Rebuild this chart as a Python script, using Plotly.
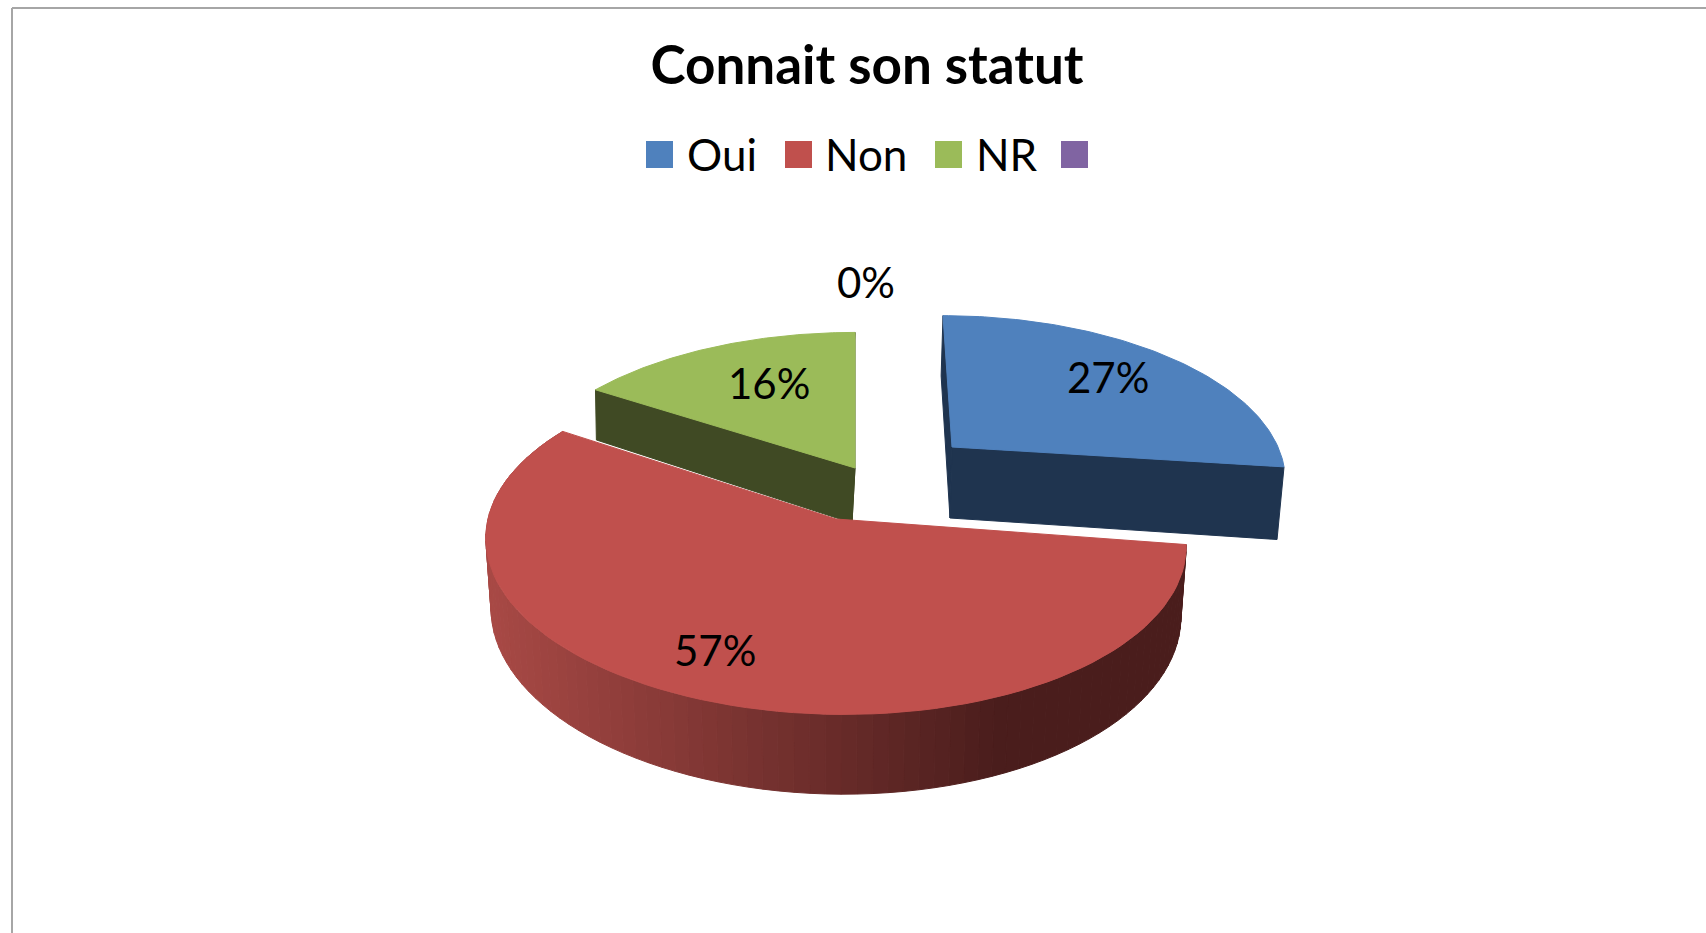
import math
import plotly.graph_objects as go

# ---- data ----
CATEGORIES = ["Oui", "Non", "NR", ""]
VALUES = [27, 57, 16, 0]
LABELS = ["27%", "57%", "16%", "0%"]
COLORS = ["#4F81BD", "#C0504D", "#9BBB59", "#8064A2"]
WALLS = ["#1F344F", None, "#404A24", "#4A3A60"]

# ---- 3D projection settings for each exploded slice ----
CX = [952, 836, 855, 870]
CY = [447, 519, 468, 460]
RX = [326, 347, 337, 330]
RY = [155, 169, 160, 160]
LEAN = [-9, 0, 0, 0]
TILT = [0, 4, 0, 0]
PERSP = [0.18, 0.135, 0.18, 0.18]
DEPTH = [71, 69, 55, 60]
WALL_DX = [-2, 0, -3, 0]
WALL_SCALE = 0.985
FONT = "Lato"


def top_pt(i, a, r=1.0):
    X, Y = r * math.sin(a), r * math.cos(a)
    s = 1 / (1 + PERSP[i] * Y)
    return CX[i] + RX[i] * X * s + LEAN[i] * Y, CY[i] - RY[i] * Y * s + TILT[i] * X * s, s


def low_pt(i, a, r=1.0):
    x, y, s = top_pt(i, a, r)
    return CX[i] + (x - CX[i]) * WALL_SCALE + WALL_DX[i], y + DEPTH[i] * s


def mix(c1, c2, t):
    t = max(0, min(1, t))
    return "#%02x%02x%02x" % tuple(round(p + (q - p) * t) for p, q in zip(c1, c2))


def poly(xs, ys, color):
    return go.Scatter(x=xs + xs[:1], y=ys + ys[:1], mode="lines", fill="toself",
                      fillcolor=color, line=dict(color=color, width=1),
                      hoverinfo="skip", showlegend=False)


total = sum(VALUES)
edges = [0]
for v in VALUES:
    edges.append(edges[-1] + v / total * 2 * math.pi)

fig = go.Figure()
for i in [2, 0, 1]:
    a0, a1 = edges[i], edges[i + 1]
    n = 90
    angs = [a0 + (a1 - a0) * k / n for k in range(n + 1)]
    if i == 1:
        # curved outer wall with a horizontal shading gradient
        for k in range(n):
            xa, ya, _ = top_pt(i, angs[k])
            xb, yb, _ = top_pt(i, angs[k + 1])
            xc, yc = low_pt(i, angs[k + 1])
            xd, yd = low_pt(i, angs[k])
            t = (1000 - (xa + xb) / 2) / 510
            color = mix((0x4A, 0x1D, 0x1C), (0xA8, 0x49, 0x45), t)
            fig.add_trace(poly([xa, xb, xc, xd], [ya, yb, yc, yd], color))
    else:
        # radial faces
        for a in (a0, a1):
            xe, ye, _ = top_pt(i, a)
            xf, yf = low_pt(i, a)
            xg, yg = low_pt(i, a, 0)
            fig.add_trace(poly([CX[i], xe, xf, xg], [CY[i], ye, yf, yg], WALLS[i]))
    pts = [top_pt(i, a) for a in angs]
    fig.add_trace(poly([CX[i]] + [p[0] for p in pts], [CY[i]] + [p[1] for p in pts], COLORS[i]))

annotations = []
for text, x, y in zip(LABELS, [1108, 715, 769, 866], [377, 650, 383, 282]):
    annotations.append(dict(x=x, y=y, text=text, showarrow=False, xanchor="center", yanchor="middle",
                            font=dict(family=FONT, size=42, color="#000000")))

shapes = [
    dict(type="line", x0=12, x1=1706, y0=8, y1=8, line=dict(color="#A6A6A6", width=2)),
    dict(type="line", x0=12, x1=12, y0=8, y1=933, line=dict(color="#A6A6A6", width=2)),
]
for name, color, x0, tx in zip(CATEGORIES, COLORS, [646, 785, 935, 1061], [685, 823, 974, 1100]):
    shapes.append(dict(type="rect", x0=x0, x1=x0 + 27, y0=141, y1=168, fillcolor=color, line_width=0))
    if name:
        annotations.append(dict(x=tx, y=154, text=name, showarrow=False, xanchor="left", yanchor="middle",
                                font=dict(family=FONT, size=44, color="#000000")))

fig.update_layout(
    width=1706, height=933,
    margin=dict(l=0, r=0, t=0, b=0),
    paper_bgcolor="white", plot_bgcolor="white",
    showlegend=False,
    title=dict(text="<b>Connait son statut</b>", x=867 / 1706, xanchor="center", y=1 - 65 / 933,
               yanchor="middle", font=dict(family=FONT, size=53, color="#000000")),
    xaxis=dict(range=[0, 1706], visible=False, fixedrange=True),
    yaxis=dict(range=[933, 0], visible=False, fixedrange=True),
    shapes=shapes, annotations=annotations,
)
fig.write_html("out.html", config={"displayModeBar": False},
               post_script="document.body.style.margin='0';document.body.style.overflow='hidden';")
